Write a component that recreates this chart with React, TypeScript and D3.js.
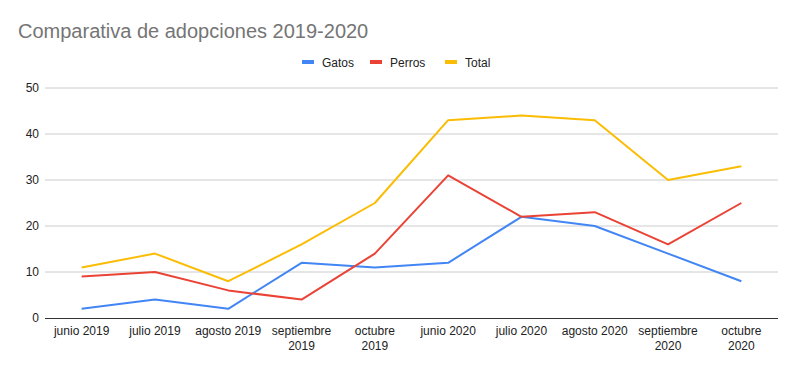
import React from "react";
import * as d3 from "d3";

const categories = [
  ["junio 2019"],
  ["julio 2019"],
  ["agosto 2019"],
  ["septiembre", "2019"],
  ["octubre", "2019"],
  ["junio 2020"],
  ["julio 2020"],
  ["agosto 2020"],
  ["septiembre", "2020"],
  ["octubre", "2020"],
];
const gatos = [2, 4, 2, 12, 11, 12, 22, 20, 14, 8];
const perros = [9, 10, 6, 4, 14, 31, 22, 23, 16, 25];
const total = [11, 14, 8, 16, 25, 43, 44, 43, 30, 33];
const yTicks = [0, 10, 20, 30, 40, 50];

const seriesList = [
  { name: "Gatos", values: gatos, color: "#4285F4" },
  { name: "Perros", values: perros, color: "#EA4335" },
  { name: "Total", values: total, color: "#FBBC04" },
];

const W = 797;
const H = 371;
const left = 45;
const right = 778;
const top = 88;
const bottom = 318;
const font = "Arial, 'Liberation Sans', sans-serif";

export default function App() {
  const x = d3
    .scaleBand<number>()
    .domain(d3.range(categories.length))
    .range([left, right]);
  const y = d3.scaleLinear().domain([0, 50]).range([bottom, top]);
  const cx = (i: number) => (x(i) as number) + x.bandwidth() / 2;
  const line = d3
    .line<number>()
    .x((_, i) => cx(i))
    .y((v) => y(v));

  const legend = [
    { sx: 302, tx: 322 },
    { sx: 370, tx: 390 },
    { sx: 445, tx: 465 },
  ];

  return (
    <svg
      width={W}
      height={H}
      style={{ position: "absolute", left: 0, top: 0, background: "#fff" }}
      fontFamily={font}
    >
      <rect width={W} height={H} fill="#fff" />
      <text x={18} y={38} fontSize={20} fill="#757575">
        Comparativa de adopciones 2019-2020
      </text>
      {seriesList.map((s, i) => (
        <g key={s.name}>
          <rect x={legend[i].sx} y={60} width={12} height={4} fill={s.color} />
          <text x={legend[i].tx} y={66.5} fontSize={12} fill="#222">
            {s.name}
          </text>
        </g>
      ))}
      {yTicks.map((t) => (
        <g key={t}>
          {t !== 0 && (
            <line
              x1={left}
              x2={right}
              y1={y(t)}
              y2={y(t)}
              stroke="#cccccc"
              strokeWidth={1}
            />
          )}
          <text
            x={39}
            y={y(t) + 4}
            fontSize={12}
            textAnchor="end"
            fill="#222"
          >
            {t}
          </text>
        </g>
      ))}
      {seriesList.map((s) => (
        <path
          key={s.name}
          d={line(s.values) as string}
          fill="none"
          stroke={s.color}
          strokeWidth={2}
          strokeLinejoin="round"
        />
      ))}
      <line
        x1={left}
        x2={right}
        y1={bottom + 0.5}
        y2={bottom + 0.5}
        stroke="#333"
        strokeWidth={1}
      />
      {categories.map((c, i) => (
        <text key={i} x={cx(i)} fontSize={12} textAnchor="middle" fill="#222">
          {c.map((ln, j) => (
            <tspan key={j} x={cx(i)} y={335 + j * 15}>
              {ln}
            </tspan>
          ))}
        </text>
      ))}
    </svg>
  );
}
